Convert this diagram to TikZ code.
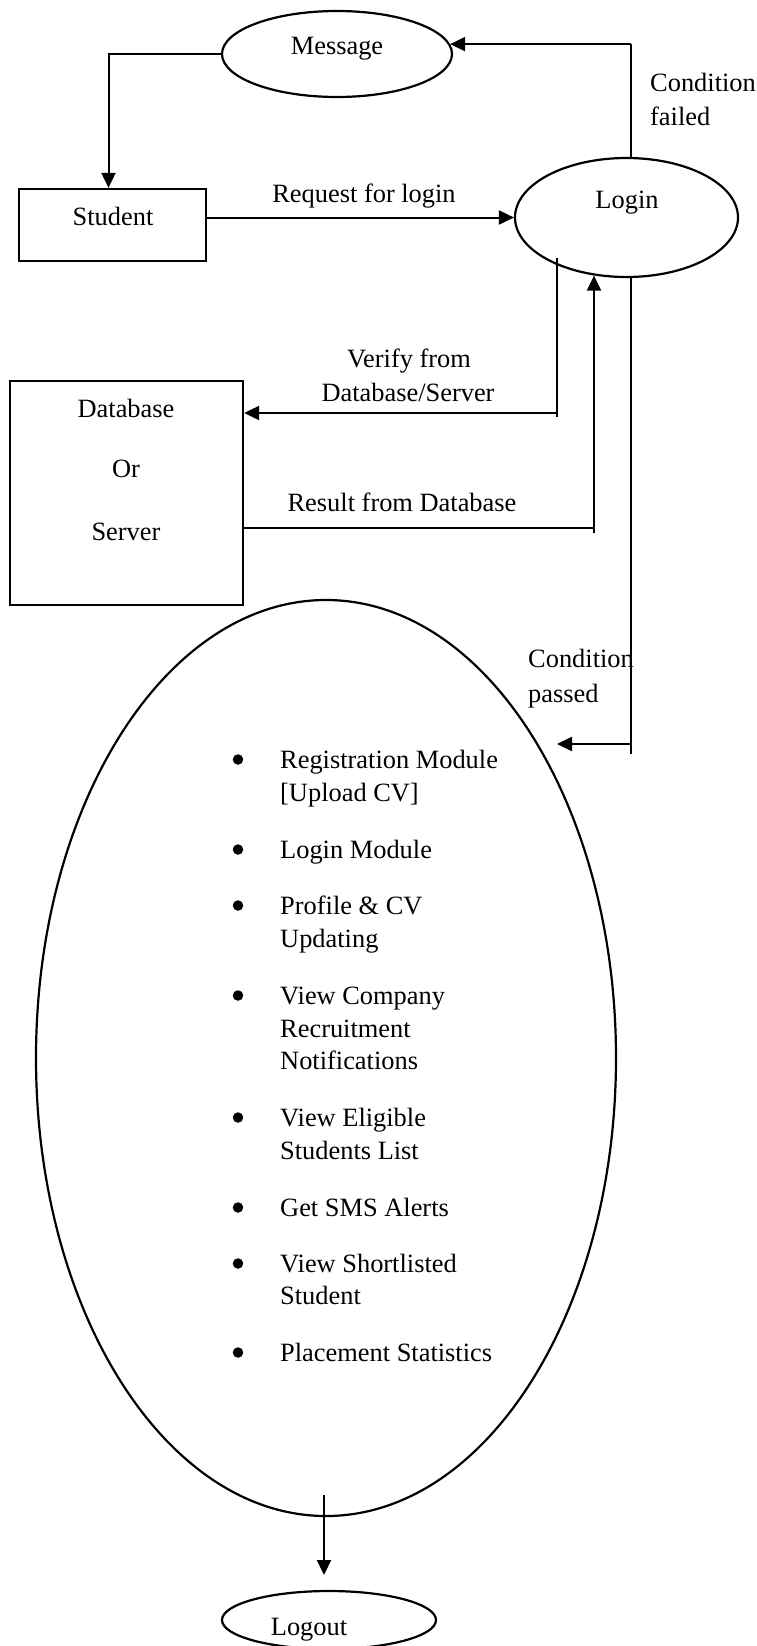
\documentclass[tikz,border=0pt]{standalone}
\usepackage{fontspec}
\setmainfont{Liberation Serif}
\usetikzlibrary{arrows.meta,shapes.geometric}

\begin{document}
\begin{tikzpicture}[
  x=1pt, y=-1pt,
  txt/.style={font=\fontsize{26.4}{33}\selectfont, inner sep=0pt, anchor=base},
  txtl/.style={txt, anchor=base west},
  boxshape/.style={draw, line width=2.3pt, rectangle, inner sep=0pt},
  ellshape/.style={draw, line width=2.2pt, ellipse, inner sep=0pt},
  dot/.style={circle, fill, inner sep=0pt, minimum size=10.5pt},
  conn/.style={line width=2pt, -{Triangle[length=15pt,width=14pt]}},
  plain/.style={line width=2pt},
  thinline/.style={line width=1.4pt},
]
\useasboundingbox (0,0) rectangle (756,1646);

% processes and entities
\node[ellshape, minimum width=230pt, minimum height=86pt] (msg) at (337,54) {};
\node[boxshape, minimum width=187pt, minimum height=72pt] (student) at (112.5,225) {};
\node[ellshape, minimum width=223pt, minimum height=119pt] (login) at (626.5,217.5) {};
\node[boxshape, minimum width=233pt, minimum height=224pt] (db) at (126.5,493) {};
\node[ellshape, minimum width=580pt, minimum height=916pt] (modules) at (326,1058) {};
\node[ellshape, minimum width=214pt, minimum height=58pt] (logout) at (329,1620) {};

% texts of the shapes
\node[txt] (msgtext) at (337,55) {Message};
\node[txt] (studenttext) at (113,225) {Student};
\node[txt] (logintext) at (627,208) {Login};
\node[txt] (dbtext1) at (126,417) {Database};
\node[txt] (dbtext2) at (126,477) {Or};
\node[txt] (dbtext3) at (126,540) {Server};
\node[txt] (logouttext) at (309,1635) {Logout};

% flow labels
\node[txt] (reqlabel) at (364,202) {Request for login};
\node[txtl] (faillabel1) at (650,91) {Condition};
\node[txtl] (faillabel2) at (650,125) {failed};
\node[txt] (verlabel1) at (409,367) {Verify from};
\node[txt] (verlabel2) at (408,401) {Database/Server};
\node[txt] (reslabel) at (402,511) {Result from Database};
\node[txtl] (passlabel1) at (528,667) {Condition};
\node[txtl] (passlabel2) at (528,702) {passed};

% module list
\foreach \b in {768,858,914,1004,1126,1216,1272,1361}
  \node[dot] (bullet\b) at (238,\b-8.5) {};
\foreach \t/\y in {{Registration Module}/768, {[Upload CV]}/801,
                   {Login Module}/858,
                   {Profile \& CV}/914, {Updating}/947,
                   {View Company}/1004, {Recruitment}/1037, {Notifications}/1069,
                   {View Eligible}/1126, {Students List}/1159,
                   {Get SMS Alerts}/1216,
                   {View Shortlisted}/1272, {Student}/1304,
                   {Placement Statistics}/1361}
  \node[txtl] (item\y) at (280,\y) {\t};

% connector end points
\coordinate (vtop) at (557,258);
\coordinate (vturn) at (557,413);
\coordinate (vbot) at (557,417);
\coordinate (rturn) at (594,528);
\coordinate (rbot) at (594,533);
\coordinate (pbot) at (631,754);
\coordinate (pturn) at (631,744);
\coordinate (ptip) at (557,744);
\coordinate (lotop) at (324,1495);
\coordinate (lotip) at (324,1575);

% message back to the student
\draw[conn] (msg.west) -| ([xshift=-4pt]student.north);
% request for login
\draw[conn] (student.east |- login.west) -- (login.west);
% condition failed
\draw[thinline] ([xshift=4.5pt]login.north) -- ([xshift=4.5pt]login.north |- msg.5);
\draw[conn] ([xshift=4.5pt]login.north |- msg.5) -- (msg.5);
% verify from database / server
\draw[thinline] (vtop) -- (vbot);
\draw[conn] (vturn) -- (vturn -| db.east);
% result from database
\draw[plain] (db.east |- rturn) -- (rturn);
\draw[conn, shorten >=-2.5pt] (rbot) -- (rbot |- login.south);
% condition passed
\draw[thinline] ([xshift=4.5pt]login.south) -- (pbot);
\draw[conn] (pturn) -- (ptip);
% logout
\draw[conn] (lotop) -- (lotip);
\end{tikzpicture}
\end{document}
